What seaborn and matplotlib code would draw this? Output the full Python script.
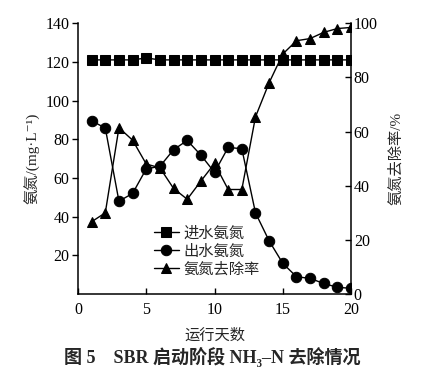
import matplotlib
matplotlib.use("Agg")
import matplotlib.pyplot as plt
import numpy as np
import pandas as pd
import seaborn as sns

# Data
days = list(range(1, 21))
influent = [121, 121, 121, 121, 122, 121, 121, 121, 121, 121,
            121, 121, 121, 121, 121, 121, 121, 121, 121, 121]
effluent = [89.5, 85.8, 48.0, 52.0, 64.7, 66.0, 74.6, 79.4, 71.8, 62.9,
            75.8, 75.1, 42.0, 27.5, 15.9, 9.0, 8.1, 5.5, 3.5, 3.0]
removal = [26.7, 30.0, 61.4, 56.8, 48.0, 46.6, 39.0, 35.0, 41.7, 48.2,
           38.6, 38.6, 65.4, 78.0, 88.6, 93.5, 94.3, 96.6, 98.0, 98.4]

labels = ["进水氨氮", "出水氨氮", "氨氮去除率"]

sns.set_style("ticks")
plt.rcParams["font.family"] = ["Liberation Serif", "DejaVu Serif", "Noto Sans CJK SC"]
plt.rcParams["axes.unicode_minus"] = False

df = pd.DataFrame({"day": days, "inf": influent, "eff": effluent, "rem": removal})

fig = plt.figure(figsize=(4.25, 3.79), dpi=100)
ax = fig.add_axes([0.1835, 0.224, 0.6425, 0.715])
ax2 = ax.twinx()

sns.lineplot(data=df, x="day", y="inf", ax=ax, color="black", marker="s",
             markersize=6.5, linewidth=1.0, markeredgecolor="black", label=labels[0])
sns.lineplot(data=df, x="day", y="eff", ax=ax, color="black", marker="o",
             markersize=7.5, linewidth=1.0, markeredgecolor="black", label=labels[1])
sns.lineplot(data=df, x="day", y="rem", ax=ax2, color="black", marker="^",
             markersize=7.5, linewidth=1.0, markeredgecolor="black", label=labels[2])

ax.set_xlim(0, 20)
ax.set_ylim(0, 140)
ax2.set_ylim(0, 100)
ax.set_xticks([0, 5, 10, 15, 20])
ax.set_yticks([20, 40, 60, 80, 100, 120, 140])
ax2.set_yticks([0, 20, 40, 60, 80, 100])

for a in (ax, ax2):
    a.spines["top"].set_visible(False)
    for s in a.spines.values():
        s.set_linewidth(1.1)
        s.set_color("black")
ax.spines["right"].set_visible(False)
ax2.spines["left"].set_visible(False)
ax2.spines["bottom"].set_visible(False)

ax.tick_params(axis="x", direction="in", length=4, width=1, labelsize=11.5, pad=6, colors="black")
ax.tick_params(axis="y", direction="out", length=4, width=1, labelsize=11.5, pad=2, colors="black")
ax2.tick_params(axis="y", direction="in", length=4, width=1, labelsize=11.5, pad=2, colors="black")

ax.set_xlabel("运行天数", fontsize=11, labelpad=7)
ax.set_ylabel("氨氮/(mg·L⁻¹)", fontsize=11, labelpad=4)
ax2.set_ylabel("氨氮去除率/%", fontsize=11, labelpad=8)

h1, l1 = ax.get_legend_handles_labels()
h2, l2 = ax2.get_legend_handles_labels()
ax.get_legend().remove()
ax2.get_legend().remove()
ax2.legend(h1 + h2, l1 + l2, loc="upper left", bbox_to_anchor=(0.24, 0.29),
           frameon=False, fontsize=11, handlelength=1.6, handletextpad=0.3,
           labelspacing=0.25, borderpad=0.2)

fig.text(0.5, 0.058, "图 5    SBR 启动阶段 NH₃–N 去除情况", ha="center", va="center",
         fontsize=13, fontweight="bold")

fig.savefig("out.png", dpi=100)
